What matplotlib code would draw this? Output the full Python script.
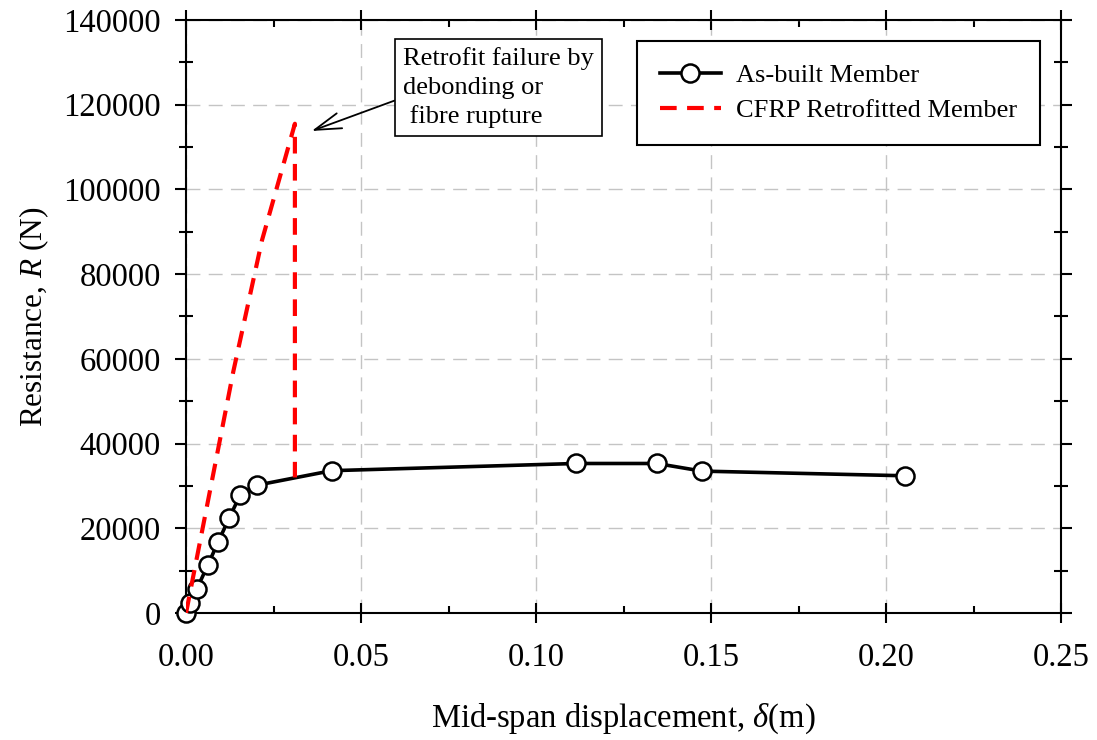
import matplotlib
matplotlib.use("Agg")
import matplotlib.pyplot as plt
from matplotlib.ticker import MultipleLocator

plt.rcParams['font.family'] = ['Liberation Serif', 'DejaVu Serif']
plt.rcParams['mathtext.fontset'] = 'custom'
plt.rcParams['mathtext.rm'] = 'Liberation Serif'
plt.rcParams['mathtext.it'] = 'Liberation Serif:italic'

# as-built member
as_built_x = [0.0, 0.0011, 0.0031, 0.0062, 0.0092, 0.0123, 0.0155, 0.0204,
              0.0416, 0.1114, 0.1345, 0.1474, 0.2054]
as_built_y = [0, 2400, 5700, 11300, 16800, 22400, 27900, 30200,
              33600, 35300, 35300, 33500, 32400]

# CFRP retrofitted member
cfrp_x = [0.0, 0.0135, 0.0217, 0.0311, 0.0311]
cfrp_y = [0, 57000, 88000, 115500, 32000]

fig = plt.figure(figsize=(10.97, 7.4), dpi=100)
ax = fig.add_axes([0.1696, 0.1716, 0.7976, 0.8014])

ax.plot(as_built_x, as_built_y, color='black', lw=2.6, marker='o', ms=13,
        mfc='white', mec='black', mew=1.8, clip_on=False, zorder=3,
        label='As-built Member')
ax.plot(cfrp_x, cfrp_y, color='red', lw=3.0, linestyle=(0, (4.0, 2.5)),
        zorder=4, label='CFRP Retrofitted Member')

ax.set_xlim(0, 0.25)
ax.set_ylim(0, 140000)
ax.xaxis.set_major_locator(MultipleLocator(0.05))
ax.xaxis.set_minor_locator(MultipleLocator(0.025))
ax.yaxis.set_major_locator(MultipleLocator(20000))
ax.yaxis.set_minor_locator(MultipleLocator(10000))
ax.xaxis.set_major_formatter(plt.FormatStrFormatter('%.2f'))

ax.grid(True, which='major', color='#c4c4c4', lw=1.0, linestyle=(0, (10, 6)))
ax.set_axisbelow(True)

for s in ax.spines.values():
    s.set_linewidth(1.5)

ax.tick_params(axis='x', which='major', direction='inout', length=15, width=1.5,
               top=True, labelsize=23.5, pad=14)
ax.tick_params(axis='x', which='minor', direction='in', length=5, width=1.5, top=True)
ax.tick_params(axis='y', which='major', direction='out', length=8, width=1.5,
               right=True, labelsize=23.5, pad=10)
ax.tick_params(axis='y', which='minor', direction='inout', length=10, width=1.5,
               right=True)

ax.set_xlabel('Mid-span displacement, $\\delta$(m)', fontsize=23.5, labelpad=20)
ax.set_ylabel('Resistance, $R$ (N)', fontsize=22.5, labelpad=9)

leg = ax.legend(loc='upper right', fontsize=19, frameon=True, fancybox=False,
                edgecolor='black', framealpha=1, borderaxespad=0.8,
                handlelength=2.3, handletextpad=0.6, labelspacing=0.45,
                borderpad=0.85)
leg.get_frame().set_linewidth(1.5)

ax.annotate('Retrofit failure by\ndebonding or\n fibre rupture',
            xy=(0.0359, 113800), xytext=(0.062, 133600),
            fontsize=19, ha='left', va='top', linespacing=1.38,
            bbox=dict(boxstyle='square,pad=0.3', fc='white', ec='black', lw=1.2),
            arrowprops=dict(arrowstyle='->,head_length=1.0,head_width=0.3',
                            color='black', lw=1.3, relpos=(0, 0.38),
                            shrinkA=0, shrinkB=0))

fig.savefig('out.png', dpi=100)
